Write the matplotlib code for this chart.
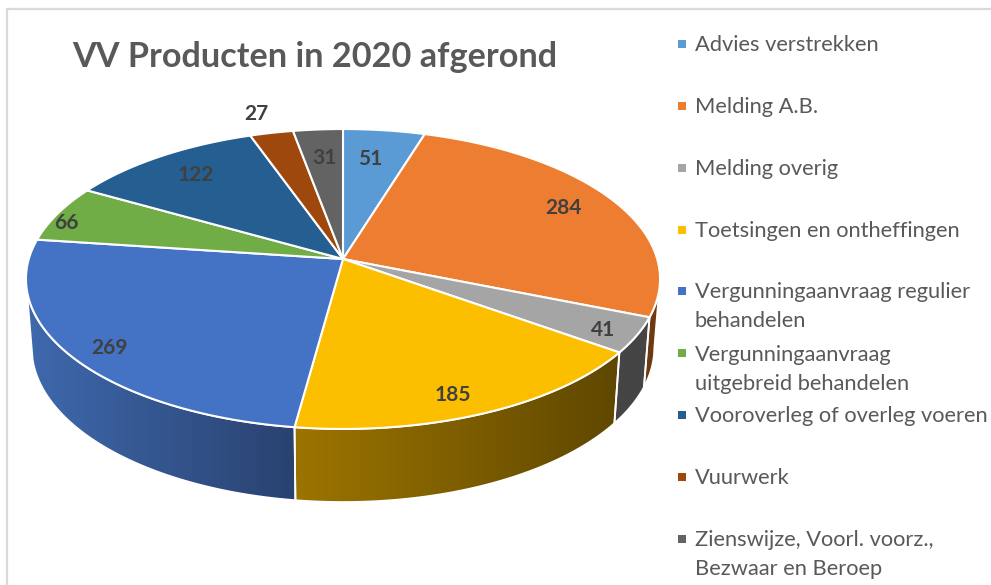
import numpy as np
import matplotlib
matplotlib.use('Agg')
import matplotlib.pyplot as plt
from matplotlib.patches import Polygon
from matplotlib.colors import LinearSegmentedColormap

categories = ['Advies verstrekken', 'Melding A.B.', 'Melding overig',
              'Toetsingen en ontheffingen',
              'Vergunningaanvraag regulier\nbehandelen',
              'Vergunningaanvraag\nuitgebreid behandelen',
              'Vooroverleg of overleg voeren', 'Vuurwerk',
              'Zienswijze, Voorl. voorz.,\nBezwaar en Beroep']
values = [51, 284, 41, 185, 269, 66, 122, 27, 31]
colors = ['#5b9bd5', '#ed7d31', '#a5a5a5', '#fcbf00', '#4472c4',
          '#70ad47', '#255e91', '#9e480e', '#636363']

# layout, in pixels of the 991x585 picture
label_x = [370, 563, 603, 453, 110, 66, 196, 256, 324]
label_y = [159, 208, 330, 395, 348, 223, 175, 114, 158]
legend_y = [44, 106, 168, 230, 291, 353, 415, 477, 539]
legend_text_y = [45, 107, 169, 231, 306.5, 369.5, 416, 478, 554.5]

# side wall: slice index, visible start and end angle, left and right colour
sides = [(1, 98, None, '#6e3a12', '#6e3a12'),
         (2, None, None, '#454545', '#454545'),
         (3, None, None, '#9c7400', '#5f4700'),
         (4, None, 258, '#3f69ae', '#29426f')]

plt.rcParams['font.family'] = ['Lato', 'DejaVu Sans']

cx, cy = 343, 259
a, b, k = 314.2, 147.3, 0.1333
side_x, side_y0, side_y = 0.982, 327, 1.03


def top_rim(theta, r=1.0):
    t = np.radians(theta)
    u, v = r * np.sin(t), r * np.cos(t)
    w = 1 + k * v
    return cx + a * u / w, cy - b * v / w


def bottom_rim(theta):
    t = np.radians(theta)
    u, v = np.sin(t), np.cos(t)
    w = 1 + k * v
    return cx + side_x * a * u / w, side_y0 - side_y * b * v / w


edges = np.concatenate([[0], np.cumsum(values)]) / np.sum(values) * 360

fig = plt.figure(figsize=(9.91, 5.85), dpi=100)
ax = fig.add_axes([0, 0, 1, 1])

# chart frame, only top and left are in the crop
ax.plot([7, 7, 991], [585, 9, 9], color='#d9d9d9', lw=1.6, solid_capstyle='butt')

for i, start, end, c_left, c_right in sides:
    t0 = edges[i] if start is None else start
    t1 = edges[i + 1] if end is None else end
    th = np.linspace(t0, t1, 120)
    xt, yt = top_rim(th)
    xb, yb = bottom_rim(th)
    pts = np.column_stack([np.r_[xt, xb[::-1]], np.r_[yt, yb[::-1]]])
    poly = Polygon(pts, closed=True, facecolor='none', edgecolor='white', lw=1.3, zorder=3)
    ax.add_patch(poly)
    cmap = LinearSegmentedColormap.from_list('side', [c_left, c_right])
    im = ax.imshow(np.linspace(0, 1, 256).reshape(1, -1), cmap=cmap, aspect='auto',
                   extent=(pts[:, 0].min(), pts[:, 0].max(), pts[:, 1].max(), pts[:, 1].min()),
                   zorder=2)
    im.set_clip_path(poly)

for i, val in enumerate(values):
    th = np.linspace(edges[i], edges[i + 1], 100)
    xs, ys = top_rim(th)
    ax.fill(np.r_[cx, xs], np.r_[cy, ys], facecolor=colors[i], edgecolor='white',
            lw=1.5, joinstyle='round', zorder=4)
    ax.text(label_x[i], label_y[i], str(val), fontsize=15, fontweight='bold',
            color='#404040', ha='center', va='center', zorder=5)

ax.text(72, 57, 'VV Producten in 2020 afgerond', fontsize=24.7, fontweight='bold',
        color='#595959', ha='left', va='center')

for i, name in enumerate(categories):
    ax.add_patch(plt.Rectangle((678, legend_y[i] - 4), 8, 8, color=colors[i], lw=0))
    ax.text(695, legend_text_y[i], name, fontsize=15.75, color='#595959', ha='left',
            va='center', linespacing=1.52, clip_on=False)

ax.set_xlim(0, 991)
ax.set_ylim(585, 0)
ax.axis('off')

fig.savefig('out.png', dpi=100, facecolor='white')
